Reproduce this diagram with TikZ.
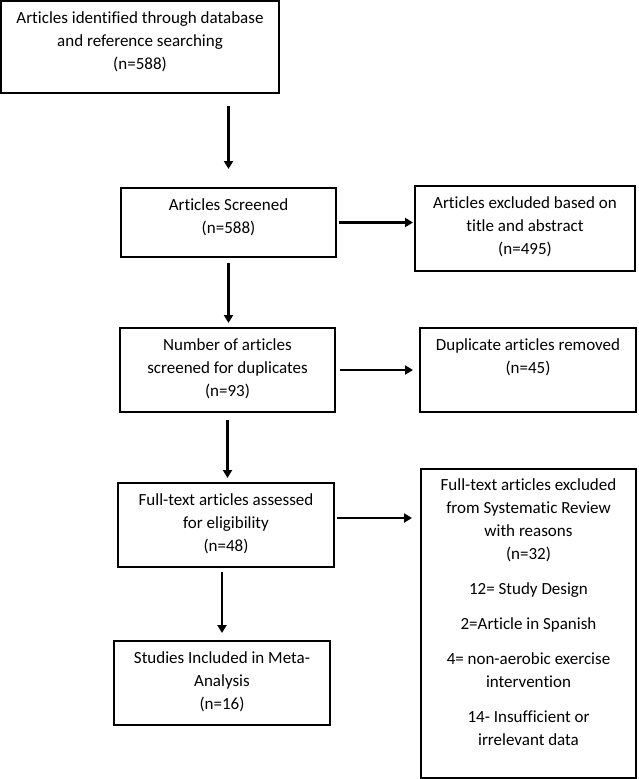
\documentclass[tikz,border=0pt]{standalone}
\usepackage{fontspec}
\setmainfont{Carlito}[Ligatures={NoCommon,NoContextual}]
\usetikzlibrary{arrows.meta,calc}
\begin{document}
\begin{tikzpicture}[x=1pt,y=-1pt,
  box/.style={draw, line width=1.6pt, inner sep=0pt, outer sep=0pt},
  txt/.style={anchor=north, align=center, inner sep=0pt, font=\fontsize{17}{23}\selectfont},
  arr/.style={line width=2.1pt, -{Triangle[length=8pt,width=9pt]}}]
\useasboundingbox (0,0) rectangle (638,779);

\node[box, minimum width=278pt, minimum height=92pt] (B1) at (140,47) {};
\node[txt] (T1) at ([yshift=-10pt]B1.north) {Articles identified through database\\and reference searching\\(n=588)};

\node[box, minimum width=215pt, minimum height=69pt] (B2) at (228.5,222.5) {};
\node[txt] (T2) at ([yshift=-10pt]B2.north) {Articles Screened\\(n=588)};

\node[box, minimum width=220pt, minimum height=85pt] (B3) at (525,228.5) {};
\node[txt] (T3) at ([yshift=-10pt]B3.north) {Articles excluded based on\\title and abstract\\(n=495)};

\node[box, minimum width=215pt, minimum height=84pt] (B4) at (227.5,370) {};
\node[txt] (T4) at ([yshift=-10pt]B4.north) {Number of articles\\screened for duplicates\\(n=93)};

\node[box, minimum width=216pt, minimum height=84pt] (B5) at (528,370) {};
\node[txt] (T5) at ([yshift=-10pt]B5.north) {Duplicate articles removed\\(n=45)};

\node[box, minimum width=216pt, minimum height=84pt] (B6) at (226,525) {};
\node[txt] (T6) at ([yshift=-10pt]B6.north) {Full-text articles assessed\\for eligibility\\(n=48)};

\node[box, minimum width=215pt, minimum height=309pt] (B7) at (528.5,623.5) {};
\node[txt] (T7) at ([yshift=-9pt]B7.north) {Full-text articles excluded\\from Systematic Review\\with reasons\\(n=32)\\[12pt]12= Study Design\\[12pt]2=Article in Spanish\\[12pt]4= non-aerobic exercise\\intervention\\[12pt]14- Insufficient or\\irrelevant data};

\node[box, minimum width=216pt, minimum height=84pt] (B8) at (222,683) {};
\node[txt] (T8) at ([yshift=-10pt]B8.north) {Studies Included in Meta-\\Analysis\\(n=16)};

\draw[arr] ($(B1.south -| B2.north)+(0,13)$) -- ($(B2.north)+(0,-19)$);
\draw[arr] ($(B2.south)+(0,6)$) -- ($(B4.north -| B2.south)+(0,-5)$);
\draw[arr] ($(B4.south)+(0,8)$) -- ($(B6.north -| B4.south)+(0,-5)$);
\draw[arr] ($(B6.south -| B8.north)+(0,5)$) -- ($(B8.north)+(0,-8)$);
\draw[arr] ($(B2.east)+(3,0)$) -- ($(B3.west |- B2.east)+(-2,0)$);
\draw[arr] ($(B4.east)+(5,0)$) -- ($(B5.west |- B4.east)+(-7,0)$);
\draw[arr] ($(B6.east)+(3,-7)$) -- ($(B7.west |- B6.east)+(-9,-7)$);
\end{tikzpicture}
\end{document}
